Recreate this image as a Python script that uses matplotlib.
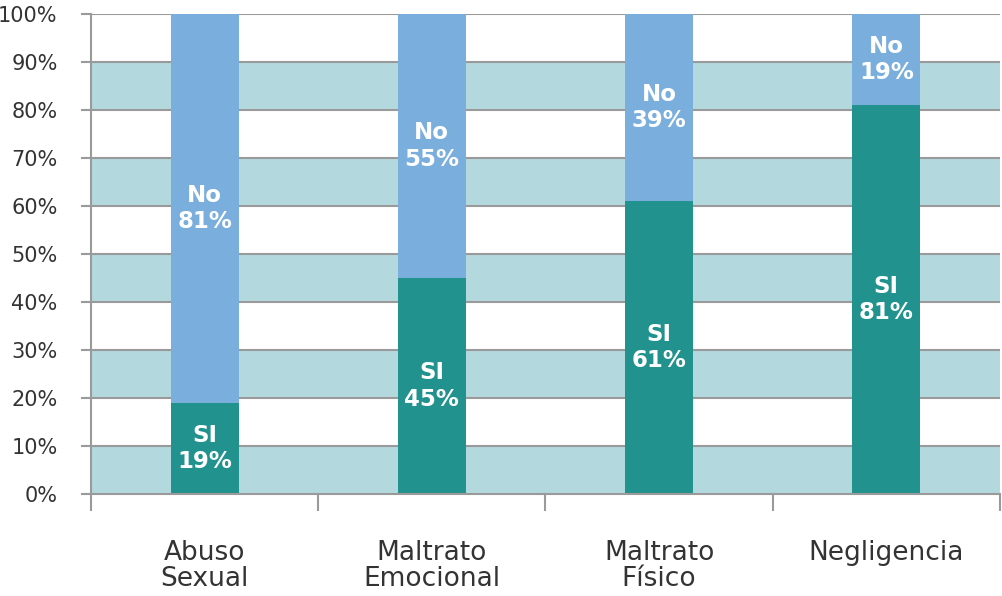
import numpy as np
import matplotlib.pyplot as plt

# datos por tipo de maltrato (porcentaje)
categorias = ['Abuso\nSexual', 'Maltrato\nEmocional', 'Maltrato\nFísico', 'Negligencia']
si_vals = [19, 45, 61, 81]
no_vals = [81, 55, 39, 19]

color_si = '#21928d'
color_no = '#7aaedc'
color_banda = '#b3d8de'
color_linea = '#9a9a9a'

fig = plt.figure(figsize=(10.03, 5.96), dpi=100)
ax = fig.add_axes([91 / 1003, 102 / 596, 909 / 1003, 480 / 596])

x = np.arange(len(categorias))

# franjas horizontales alternas
for y0 in range(0, 100, 20):
    ax.axhspan(y0, y0 + 10, color=color_banda, lw=0, zorder=0)
for y in range(10, 101, 10):
    ax.axhline(y, color=color_linea, lw=1.5, zorder=1)

ancho = 0.30
b_si = ax.bar(x, si_vals, width=ancho, color=color_si, zorder=2)
b_no = ax.bar(x, no_vals, width=ancho, bottom=si_vals, color=color_no, zorder=2)

for i in range(len(categorias)):
    ax.text(x[i], si_vals[i] / 2, f'SI\n{si_vals[i]}%', color='white',
            fontsize=16.5, fontweight='bold', ha='center', va='center', zorder=3)
    ax.text(x[i], si_vals[i] + no_vals[i] / 2, f'No\n{no_vals[i]}%', color='white',
            fontsize=16.5, fontweight='bold', ha='center', va='center', zorder=3)

ax.set_xlim(-0.5, len(categorias) - 0.5)
ax.set_ylim(0, 100)

ax.set_yticks(range(0, 101, 10))
ax.set_yticklabels([f'{v}%' for v in range(0, 101, 10)], fontsize=15, color='#333333')
ax.tick_params(axis='y', length=7, width=1.5, color=color_linea, pad=17)

ax.set_xticks(x)
ax.set_xticklabels(categorias, fontsize=19, color='#333333', linespacing=1.0)
for lbl in ax.get_xticklabels():
    lbl.set_multialignment('center')
ax.tick_params(axis='x', which='major', length=0, pad=33)
ax.set_xticks(np.arange(-0.5, len(categorias), 1), minor=True)
ax.tick_params(axis='x', which='minor', length=12, width=1.5, color=color_linea)

for s in ['top', 'right']:
    ax.spines[s].set_visible(False)
ax.spines['left'].set_color(color_linea)
ax.spines['left'].set_linewidth(1.5)
ax.spines['bottom'].set_color(color_linea)
ax.spines['bottom'].set_linewidth(1.5)

fig.savefig('out.png', dpi=100)
